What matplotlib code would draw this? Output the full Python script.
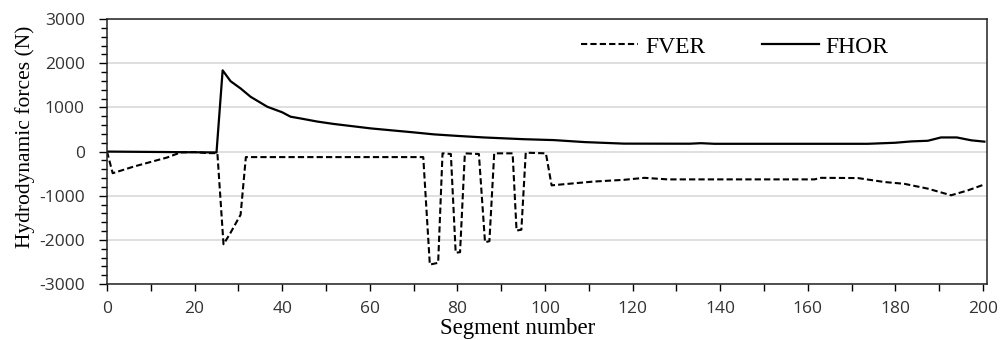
import matplotlib.pyplot as plt
from matplotlib.ticker import MultipleLocator
import numpy as np

plt.rcParams['axes.unicode_minus'] = False

# breakpoints (segment number, force in N)
seg_hor = [0, 25, 26.4, 28.2, 30.5, 32.8, 36.6, 40, 41.9, 44.2, 48, 51.8, 55.6, 60.2, 64, 70,
           74.6, 80, 86, 95.2, 102, 109, 118, 133, 135.6, 138.7, 173.7, 180, 183.6, 187.4,
           190.4, 194, 197.3, 200.3]
f_hor = [0, -20, 1840, 1595, 1430, 1240, 1015, 890, 790, 750, 680, 625, 580, 525, 490, 435,
         390, 355, 320, 280, 260, 215, 180, 178, 190, 176, 176, 200, 230, 245,
         320, 320, 255, 225]

seg_ver = [0, 1.3, 6.1, 13.7, 16.8, 20, 22.9, 25.2, 26.6, 28.2, 30.5, 31.7, 72.2, 73.7, 75.6,
           76.6, 78.5, 79.6, 80.6, 81.7, 84.9, 86.3, 87.3, 88.4, 92.6, 93.5, 94.6, 95.6, 100.2,
           101.5, 111, 118, 122.7, 128, 161.5, 163, 171.4, 177.5, 182, 187.4, 192.7, 196.5, 200.3]
f_ver = [0, -490, -340, -135, -20, -10, -35, -35, -2100, -1840, -1430, -125, -125, -2560, -2520,
         -40, -55, -2290, -2280, -40, -55, -2055, -2030, -40, -40, -1790, -1770, -25, -40,
         -765, -680, -640, -595, -630, -630, -595, -600, -690, -730, -840, -990, -880, -745]

fig = plt.figure(figsize=(10, 3.4), dpi=100)
ax = fig.add_axes([0.107, 0.1647, 0.88, 0.779])

ax.plot(seg_ver, f_ver, color='black', lw=1.5, dashes=(3, 1.5), label='FVER')
ax.plot(seg_hor, f_hor, color='black', lw=1.6, label='FHOR')

ax.set_xlim(0, 200.9)
ax.set_ylim(-3000, 3000)
ax.xaxis.set_major_locator(MultipleLocator(20))
ax.xaxis.set_minor_locator(MultipleLocator(10))
ax.yaxis.set_major_locator(MultipleLocator(1000))
ax.yaxis.set_minor_locator(MultipleLocator(200))
ax.grid(axis='y', which='major', color='#d9d9d9', lw=1.2)
ax.set_axisbelow(True)

ax.tick_params(axis='x', which='both', length=5, width=1, direction='out', pad=7,
               labelsize=12.5, labelcolor='#333333')
ax.tick_params(axis='y', which='major', length=6, width=1, direction='out', pad=10,
               labelsize=12.5, labelcolor='#333333')
ax.tick_params(axis='y', which='minor', length=4, width=1, direction='out')
for lab in ax.get_xticklabels() + ax.get_yticklabels():
    lab.set_family('Open Sans')
for s in ax.spines.values():
    s.set_color('#222222')
    s.set_linewidth(1.1)

ax.set_xlabel('Segment number', family='Liberation Serif', fontsize=16.5)
ax.set_ylabel('Hydrodynamic forces (N)', family='Liberation Serif', fontsize=15.5)
ax.xaxis.set_label_coords(0.467, -0.13)
ax.yaxis.set_label_coords(-0.082, 0.555)

ax.legend(loc='center', bbox_to_anchor=(0.735, 0.862), bbox_transform=fig.transFigure,
          ncol=2, frameon=False, prop={'family': 'Liberation Serif', 'size': 17},
          handlelength=2.4, handletextpad=0.3, columnspacing=2.4)

fig.savefig('out.png', dpi=100)
